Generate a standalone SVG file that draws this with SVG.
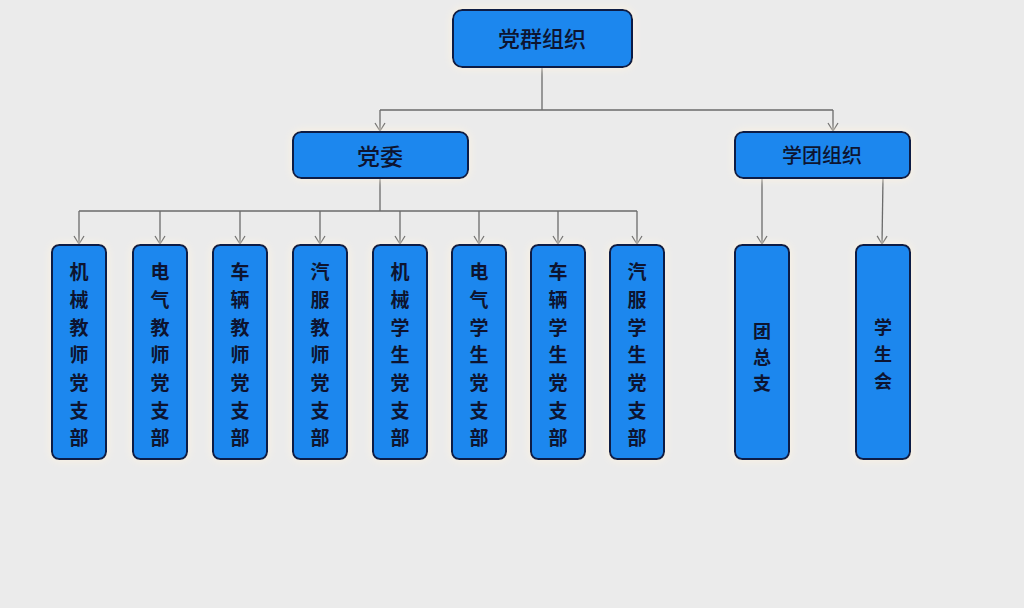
<svg xmlns="http://www.w3.org/2000/svg" width="1024" height="608" viewBox="0 0 1024 608">
<defs>
<style>
.box{fill:#1f87ee;stroke:#0f1d45;stroke-width:2;filter:url(#glow)}
.t{font-family:"Noto Sans CJK SC","Noto Sans",sans-serif;fill:#0d1430;text-anchor:middle;font-weight:500}
.col{font-size:19px;font-weight:700}
.col3{font-size:18px;font-weight:700}
.c{fill:none;stroke:#6b6b6b;stroke-width:1.3}
</style>
<filter id="glow" x="-30%" y="-30%" width="160%" height="160%">
<feDropShadow dx="0" dy="0" stdDeviation="4" flood-color="#fff4e0" flood-opacity="1"/>
</filter>
<marker id="arr" markerWidth="12" markerHeight="12" refX="10" refY="6" orient="auto" markerUnits="userSpaceOnUse" viewBox="0 0 12 12">
<path d="M2 1 L10 6 L2 11" fill="none" stroke="#6b6b6b" stroke-width="1.2"/>
</marker>
</defs>
<rect width="1024" height="608" fill="#ebebeb"/>
<g id="connectors">
<path class="c" d="M542 67 V110 M380 110 H833"/>
<path class="c" d="M380 110 V131" marker-end="url(#arr)"/>
<path class="c" d="M833 110 V131" marker-end="url(#arr)"/>
<path class="c" d="M380 178 V211 M79 211 H637"/>
<path class="c" d="M79 211 V244" marker-end="url(#arr)"/>
<path class="c" d="M160 211 V244" marker-end="url(#arr)"/>
<path class="c" d="M240 211 V244" marker-end="url(#arr)"/>
<path class="c" d="M320 211 V244" marker-end="url(#arr)"/>
<path class="c" d="M400 211 V244" marker-end="url(#arr)"/>
<path class="c" d="M479 211 V244" marker-end="url(#arr)"/>
<path class="c" d="M558 211 V244" marker-end="url(#arr)"/>
<path class="c" d="M637 211 V244" marker-end="url(#arr)"/>
<path class="c" d="M762 178 V244" marker-end="url(#arr)"/>
<path class="c" d="M883 178 L882 244" marker-end="url(#arr)"/>
</g>
<g id="n-root"><rect class="box" x="453" y="10" width="179" height="57" rx="9"/><text class="t" x="542" y="47" font-size="22">党群组织</text></g>
<g id="n-dangwei"><rect class="box" x="293" y="132" width="175" height="46" rx="8"/><text class="t" x="380" y="165" font-size="23" font-weight="700">党委</text></g>
<g id="n-xuetuan"><rect class="box" x="735" y="132" width="175" height="46" rx="8"/><text class="t" x="822" y="163" font-size="20">学团组织</text></g>
<g id="n1"><rect class="box" x="52" y="245" width="54" height="214" rx="7"/><text class="t col"><tspan x="79" y="279">机</tspan><tspan x="79" y="307">械</tspan><tspan x="79" y="335">教</tspan><tspan x="79" y="362">师</tspan><tspan x="79" y="390">党</tspan><tspan x="79" y="418">支</tspan><tspan x="79" y="445">部</tspan></text></g>
<g id="n2"><rect class="box" x="133" y="245" width="54" height="214" rx="7"/><text class="t col"><tspan x="160" y="279">电</tspan><tspan x="160" y="307">气</tspan><tspan x="160" y="335">教</tspan><tspan x="160" y="362">师</tspan><tspan x="160" y="390">党</tspan><tspan x="160" y="418">支</tspan><tspan x="160" y="445">部</tspan></text></g>
<g id="n3"><rect class="box" x="213" y="245" width="54" height="214" rx="7"/><text class="t col"><tspan x="240" y="279">车</tspan><tspan x="240" y="307">辆</tspan><tspan x="240" y="335">教</tspan><tspan x="240" y="362">师</tspan><tspan x="240" y="390">党</tspan><tspan x="240" y="418">支</tspan><tspan x="240" y="445">部</tspan></text></g>
<g id="n4"><rect class="box" x="293" y="245" width="54" height="214" rx="7"/><text class="t col"><tspan x="320" y="279">汽</tspan><tspan x="320" y="307">服</tspan><tspan x="320" y="335">教</tspan><tspan x="320" y="362">师</tspan><tspan x="320" y="390">党</tspan><tspan x="320" y="418">支</tspan><tspan x="320" y="445">部</tspan></text></g>
<g id="n5"><rect class="box" x="373" y="245" width="54" height="214" rx="7"/><text class="t col"><tspan x="400" y="279">机</tspan><tspan x="400" y="307">械</tspan><tspan x="400" y="335">学</tspan><tspan x="400" y="362">生</tspan><tspan x="400" y="390">党</tspan><tspan x="400" y="418">支</tspan><tspan x="400" y="445">部</tspan></text></g>
<g id="n6"><rect class="box" x="452" y="245" width="54" height="214" rx="7"/><text class="t col"><tspan x="479" y="279">电</tspan><tspan x="479" y="307">气</tspan><tspan x="479" y="335">学</tspan><tspan x="479" y="362">生</tspan><tspan x="479" y="390">党</tspan><tspan x="479" y="418">支</tspan><tspan x="479" y="445">部</tspan></text></g>
<g id="n7"><rect class="box" x="531" y="245" width="54" height="214" rx="7"/><text class="t col"><tspan x="558" y="279">车</tspan><tspan x="558" y="307">辆</tspan><tspan x="558" y="335">学</tspan><tspan x="558" y="362">生</tspan><tspan x="558" y="390">党</tspan><tspan x="558" y="418">支</tspan><tspan x="558" y="445">部</tspan></text></g>
<g id="n8"><rect class="box" x="610" y="245" width="54" height="214" rx="7"/><text class="t col"><tspan x="637" y="279">汽</tspan><tspan x="637" y="307">服</tspan><tspan x="637" y="335">学</tspan><tspan x="637" y="362">生</tspan><tspan x="637" y="390">党</tspan><tspan x="637" y="418">支</tspan><tspan x="637" y="445">部</tspan></text></g>
<g id="n-tuan"><rect class="box" x="735" y="245" width="54" height="214" rx="7"/><text class="t col3"><tspan x="762" y="338">团</tspan><tspan x="762" y="364">总</tspan><tspan x="762" y="390">支</tspan></text></g>
<g id="n-xsh"><rect class="box" x="856" y="245" width="54" height="214" rx="7"/><text class="t col3"><tspan x="883" y="334">学</tspan><tspan x="883" y="361">生</tspan><tspan x="883" y="388">会</tspan></text></g>
</svg>
